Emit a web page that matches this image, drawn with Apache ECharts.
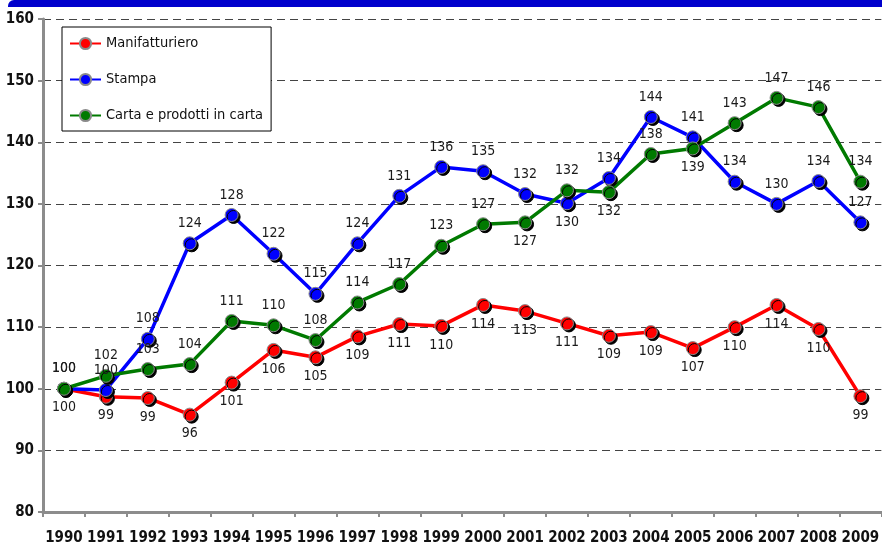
<!DOCTYPE html>
<html><head><meta charset="utf-8">
<script src="https://cdn.jsdelivr.net/npm/echarts@6/dist/echarts.min.js"></script>
<style>html,body{margin:0;padding:0;background:#fff}#c{width:882px;height:547px}</style>
</head><body><div id="c"></div>
<script>
var years = ['1990','1991','1992','1993','1994','1995','1996','1997','1998','1999','2000','2001','2002','2003','2004','2005','2006','2007','2008','2009'];
var manifatturiero = [100, 98.7, 98.5, 95.8, 101, 106.3, 105.1, 108.5, 110.5, 110.2, 113.6, 112.6, 110.6, 108.6, 109.2, 106.6, 110, 113.6, 109.7, 98.8];
var stampa = [100, 99.8, 108.1, 123.6, 128.2, 121.9, 115.4, 123.6, 131.3, 136, 135.3, 131.6, 130.1, 134.2, 144.1, 140.8, 133.6, 130, 133.7, 127];
var carta = [100, 102.1, 103.2, 104, 111, 110.3, 107.9, 114, 117, 123.2, 126.7, 127, 132.2, 131.9, 138.1, 139, 143.1, 147.2, 145.7, 133.6];
var yTicks = [80, 90, 100, 110, 120, 130, 140, 150, 160];
var seriesNames = ['Manifatturiero', 'Stampa', 'Carta e prodotti in carta'];
// years whose value label sits below the point (others above)
var stampaBelow = ['2002'];
var cartaBelow = ['2001', '2003', '2005'];

var FONT = "'Liberation Sans Narrow', 'Arial Narrow', 'DejaVu Sans Condensed', sans-serif";

function build(vals, belowList, allBelow) {
  return vals.map(function (v, i) {
    var below = allBelow || belowList.indexOf(years[i]) >= 0;
    return {
      value: v,
      label: { position: below ? 'bottom' : 'top', distance: below ? 5 : 6 }
    };
  });
}

function mk(name, color, data) {
  return {
    name: name, type: 'line', data: data,
    symbol: 'circle', symbolSize: 13,
    lineStyle: { color: color, width: 3.5 },
    itemStyle: { color: color, borderColor: '#8a8a8a', borderWidth: 1,
      shadowColor: '#000', shadowOffsetX: 2, shadowOffsetY: 2, shadowBlur: 0 },
    label: { show: true, fontFamily: FONT, fontSize: 14, color: '#1a1a1a',
      formatter: function (p) { return Math.round(p.value); } },
    emphasis: { disabled: true },
    animation: false
  };
}

var chart = echarts.init(document.getElementById('c'), null, { renderer: 'canvas' });
chart.setOption({
  backgroundColor: '#fff',
  animation: false,
  graphic: [{ type: 'rect', shape: { x: 8, y: 0, width: 880, height: 7, r: [6, 0, 0, 0] },
    style: { fill: '#0000cc' }, z: 10 }],
  grid: { left: 43, right: -6, top: 19, bottom: 35, containLabel: false },
  legend: {
    orient: 'vertical', left: 62, top: 27,
    backgroundColor: '#fff', borderColor: '#000', borderWidth: 1,
    padding: [9, 8, 8, 7], itemGap: 21, itemWidth: 31, itemHeight: 14,
    textStyle: { fontFamily: FONT, fontSize: 14.5, color: '#111' },
    data: seriesNames
  },
  xAxis: {
    type: 'category', data: years, boundaryGap: true,
    axisLine: { lineStyle: { color: '#8c8c8c', width: 3 } },
    axisTick: { show: true, length: 5, interval: 0, lineStyle: { color: '#8c8c8c', width: 2 } },
    axisLabel: { interval: 0, fontFamily: FONT, fontSize: 15, fontWeight: 'bold', color: '#111', margin: 19 }
  },
  yAxis: {
    type: 'value', min: yTicks[0], max: yTicks[yTicks.length - 1], interval: yTicks[1] - yTicks[0],
    axisLine: { show: true, lineStyle: { color: '#8c8c8c', width: 3 } },
    axisTick: { show: true, length: 5, lineStyle: { color: '#8c8c8c', width: 2 } },
    axisLabel: { fontFamily: FONT, fontSize: 15, fontWeight: 'bold', color: '#111', margin: 9 },
    splitLine: { show: true, lineStyle: { color: '#444', width: 1, type: [8, 5] } }
  },
  series: [
    mk(seriesNames[0], '#ff0000', build(manifatturiero, [], true)),
    mk(seriesNames[1], '#0000ff', build(stampa, stampaBelow, false)),
    mk(seriesNames[2], '#007a00', build(carta, cartaBelow, false))
  ]
});
</script></body></html>
